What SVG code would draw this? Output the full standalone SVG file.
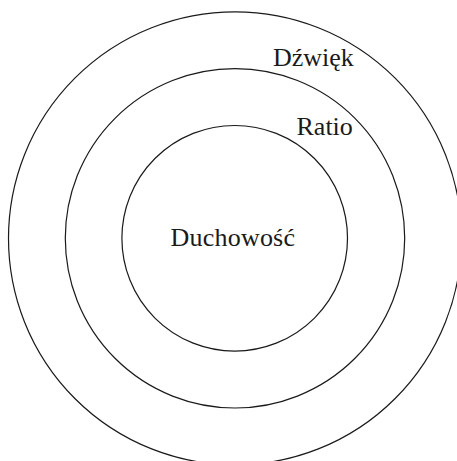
<svg xmlns="http://www.w3.org/2000/svg" width="457" height="461" viewBox="0 0 457 461">
<style>
.ring{fill:none;stroke:#1a1a1a;stroke-width:1.2}
.lbl{font-family:"Liberation Serif","Times New Roman",serif;font-size:26px;fill:#1a1a1a}
</style>
<rect width="457" height="461" fill="#fff"/>
<g id="outer"><circle class="ring" cx="235" cy="238.3" r="226.5"/><text class="lbl" x="273" y="65.5">Dźwięk</text></g>
<g id="middle"><circle class="ring" cx="235" cy="238.3" r="169.7"/><text class="lbl" x="296.5" y="135">Ratio</text></g>
<g id="inner"><circle class="ring" cx="234.7" cy="238.3" r="112.8"/><text class="lbl" x="170.5" y="245.5" textLength="124.5">Duchowość</text></g>
<g id="connectors"/>
</svg>
